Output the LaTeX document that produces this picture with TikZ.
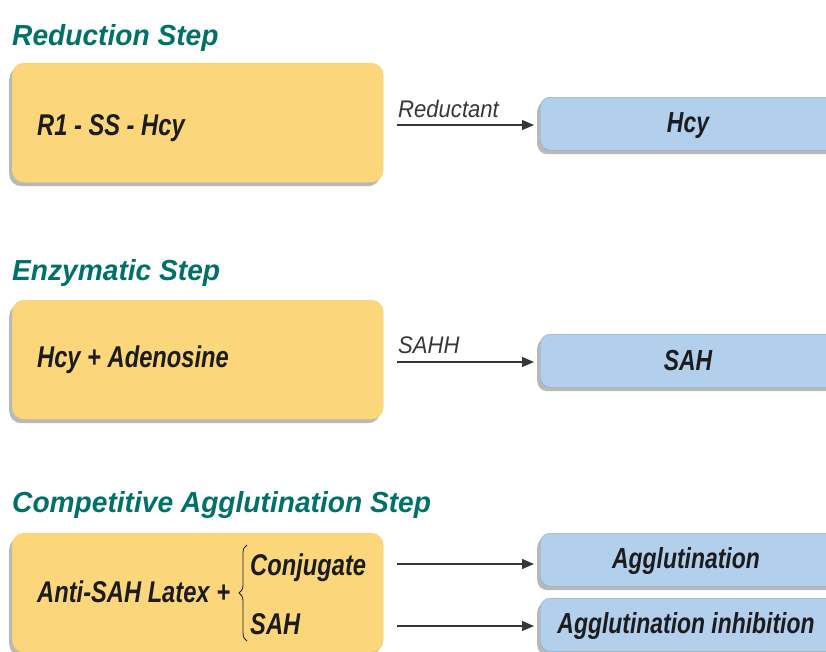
\documentclass[tikz,border=0pt]{standalone}
\usepackage{fontspec}
\setmainfont{Liberation Sans}
\newfontfamily\condfont[FakeStretch=0.79]{Liberation Sans}
\newfontfamily\headfont[FakeStretch=0.97]{Liberation Sans}
\newfontfamily\labelfont[FakeStretch=0.92]{Liberation Sans}
\usepackage{tikz}
\usetikzlibrary{arrows.meta, positioning, shadows, decorations.pathreplacing}
\definecolor{stepteal}{RGB}{0, 112, 104}
\definecolor{boxyellow}{RGB}{251, 214, 122}
\definecolor{boxblue}{RGB}{178, 207, 236}
\definecolor{inkdark}{RGB}{28, 28, 30}
\definecolor{arrowgrey}{RGB}{55, 55, 58}

\tikzset{
    steptitle/.style={anchor=base west, inner sep=0pt, text=stepteal,
        font=\headfont\bfseries\itshape\fontsize{29}{30}\selectfont},
    yellowbox/.style={rounded corners=12pt, fill=boxyellow, draw=boxyellow!85!orange,
        minimum width=371pt, minimum height=119pt, anchor=north west,
        drop shadow={shadow xshift=-3pt, shadow yshift=-4pt, opacity=0.55}},
    bluebox/.style={rounded corners=10pt, fill=boxblue, draw=boxblue!80!black,
        minimum width=300pt, minimum height=53pt, anchor=north west,
        drop shadow={shadow xshift=-3pt, shadow yshift=-4pt, opacity=0.55}},
    boxtext/.style={inner sep=0pt, text=inkdark,
        font=\condfont\bfseries\itshape\fontsize{30}{31}\selectfont},
    bluetext/.style={inner sep=0pt, text=inkdark,
        font=\condfont\bfseries\itshape\fontsize{29}{30}\selectfont},
    arrlabel/.style={anchor=base west, inner sep=0pt, text=arrowgrey,
        font=\labelfont\itshape\fontsize{24}{25}\selectfont},
    arr/.style={-{Triangle[length=12pt,width=10pt]}, line width=1.2pt, arrowgrey},
}

\begin{document}
\begin{tikzpicture}[x=1pt, y=-1pt]
    \useasboundingbox (0,0) rectangle (826,651);

    % Reduction step
    \node[steptitle] (t1) at (12,45) {Reduction Step};
    \node[yellowbox] (y1) at (12,63) {};
    \node[boxtext, anchor=west] (r1) at (37,128) {R1 - SS - Hcy};
    \node[bluebox] (b1) at (540,97) {};
    \node[bluetext] (hcy) at (688,126) {Hcy};
    \coordinate (s1) at (397,125);
    \draw[arr, shorten >=6pt] (s1) -- (s1 -| b1.west);
    \node[arrlabel] (l1) at (398,117) {Reductant};

    % Enzymatic step
    \node[steptitle] (t2) at (12,280) {Enzymatic Step};
    \node[yellowbox] (y2) at (12,300) {};
    \node[boxtext, anchor=west] (r2) at (37,360) {Hcy + Adenosine};
    \node[bluebox] (b2) at (540,334) {};
    \node[bluetext] (sah) at (688,361) {SAH};
    \coordinate (s2) at (397,362);
    \draw[arr, shorten >=6pt] (s2) -- (s2 -| b2.west);
    \node[arrlabel] (l2) at (398,353) {SAHH};

    % Competitive agglutination step
    \node[steptitle] (t3) at (12,512) {Competitive Agglutination Step};
    \node[yellowbox] (y3) at (12,533) {};
    \node[boxtext, anchor=west] (r3) at (37,592) {Anti-SAH Latex +};
    \draw[thick, inkdark, decorate, decoration={brace, amplitude=8pt}]
        (247,641) -- (247,545);
    \node[boxtext, anchor=west] (conj) at (250,568) {Conjugate};
    \node[boxtext, anchor=west] (sah2) at (250,624) {SAH};
    \node[bluebox] (b3) at (540,533) {};
    \node[bluetext] (agg) at (686,561) {Agglutination};
    \node[bluebox] (b4) at (540,598) {};
    \node[bluetext] (inh) at (686,626) {Agglutination inhibition};
    \coordinate (s3) at (397,564);
    \coordinate (s4) at (397,626);
    \draw[arr, shorten >=6pt] (s3) -- (s3 -| b3.west);
    \draw[arr, shorten >=6pt] (s4) -- (s4 -| b4.west);
\end{tikzpicture}
\end{document}
